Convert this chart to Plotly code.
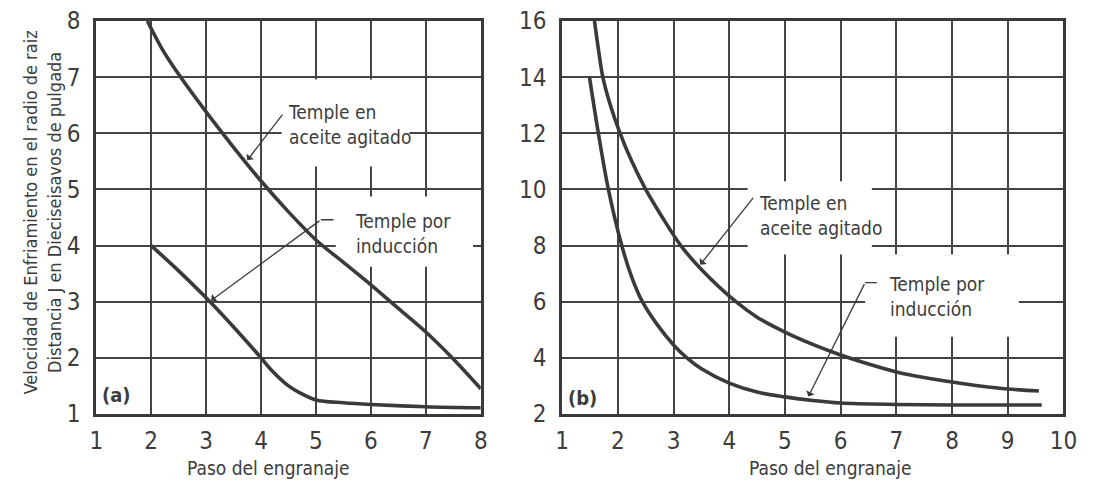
import plotly.graph_objects as go

# ---------------- data ----------------
# Panel (a)
a_aceite_x = [1.93, 2.2, 2.5, 3.0, 3.5, 4.0, 4.5, 5.0, 5.5, 6.0, 6.5, 7.0, 7.5, 8.0]
a_aceite_y = [8.0, 7.5, 7.05, 6.38, 5.75, 5.15, 4.6, 4.1, 3.7, 3.3, 2.88, 2.46, 1.98, 1.45]
a_induc_x = [2.0, 2.5, 3.0, 3.5, 4.0, 4.2, 4.5, 4.7, 5.0, 5.5, 6.0, 7.0, 8.0]
a_induc_y = [4.0, 3.55, 3.07, 2.55, 2.0, 1.77, 1.5, 1.38, 1.25, 1.2, 1.17, 1.13, 1.11]
# Panel (b)
b_aceite_x = [1.58, 1.65, 1.73, 1.85, 2.04, 2.25, 2.5, 2.8, 3.13, 3.5, 4.12, 4.5, 5.0, 5.5,
              6.0, 6.5, 7.0, 7.5, 8.0, 8.5, 9.0, 9.56]
b_aceite_y = [16.0, 15.0, 14.0, 13.1, 12.0, 11.0, 10.0, 9.0, 8.0, 7.15, 6.0, 5.45, 4.92, 4.48,
              4.1, 3.78, 3.5, 3.3, 3.14, 3.0, 2.89, 2.82]
b_induc_x = [1.49, 1.65, 1.83, 2.07, 2.25, 2.44, 2.7, 3.0, 3.25, 3.5, 4.0, 4.5, 5.0,
             5.5, 6.0, 7.0, 8.0, 9.0, 9.61]
b_induc_y = [14.0, 12.0, 10.0, 8.0, 6.87, 6.0, 5.2, 4.46, 3.98, 3.61, 3.1, 2.78, 2.61,
             2.48, 2.39, 2.34, 2.32, 2.32, 2.32]

a_xticks = [1, 2, 3, 4, 5, 6, 7, 8]
a_yticks = [1, 2, 3, 4, 5, 6, 7, 8]
b_xticks = [1, 2, 3, 4, 5, 6, 7, 8, 9, 10]
b_yticks = [2, 4, 6, 8, 10, 12, 14, 16]

label_aceite = "Temple en<br>aceite agitado"
label_induc = "Temple por<br>inducción"
x_title = "Paso del engranaje"
y_title = "Velocidad de Enfriamiento en el radio de raiz<br>Distancia J en Dieciseisavos de pulgada"

# ---------------- style ----------------
INK = "#3a3a3a"
TXT = "#3c3c3c"
FONT = "Liberation Sans Narrow, Arial Narrow, DejaVu Sans Condensed, Liberation Sans, sans-serif"
W, H = 1098, 482

fig = go.Figure()
line_style = dict(color=INK, width=3.6, shape="spline", smoothing=0.9)
fig.add_trace(go.Scatter(x=a_aceite_x, y=a_aceite_y, mode="lines", line=line_style, xaxis="x", yaxis="y"))
fig.add_trace(go.Scatter(x=a_induc_x, y=a_induc_y, mode="lines", line=line_style, xaxis="x", yaxis="y"))
fig.add_trace(go.Scatter(x=b_aceite_x, y=b_aceite_y, mode="lines", line=line_style, xaxis="x2", yaxis="y2"))
fig.add_trace(go.Scatter(x=b_induc_x, y=b_induc_y, mode="lines", line=line_style, xaxis="x2", yaxis="y2"))

axis_common = dict(
    showgrid=True, gridcolor="#444444", gridwidth=1.7,
    showline=True, mirror=True, linecolor=INK, linewidth=3,
    zeroline=False, ticks="", tickfont=dict(family=FONT, size=24, color=TXT),
    fixedrange=True,
)

fig.update_layout(
    width=W, height=H,
    margin=dict(l=0, r=0, t=21, b=68),
    paper_bgcolor="white", plot_bgcolor="white",
    showlegend=False,
    xaxis=dict(axis_common, domain=[91 / W, 483 / W], range=[1, 8], tickvals=a_xticks,
               ticklabelstandoff=3, anchor="y"),
    yaxis=dict(axis_common, domain=[0, 1], range=[1, 8], tickvals=a_yticks,
               ticklabelstandoff=8, anchor="x"),
    xaxis2=dict(axis_common, domain=[566 / W, 1077 / W], range=[1, 10], tickvals=b_xticks,
                ticklabelstandoff=3, anchor="y2"),
    yaxis2=dict(axis_common, domain=[0, 1], range=[2, 16], tickvals=b_yticks,
                ticklabelstandoff=8, anchor="x2"),
)

# white masks that interrupt the grid behind the labels
masks = [
    ("x", "y", 4.375, 6.70, 5.41, 6.96),
    ("x", "y", 5.36, 7.86, 3.625, 4.875),
    ("x2", "y2", 4.33, 6.56, 7.68, 10.29),
    ("x2", "y2", 6.44, 9.20, 4.75, 7.68),
]
for xr, yr, x0, x1, y0, y1 in masks:
    fig.add_shape(type="rect", xref=xr, yref=yr, x0=x0, x1=x1, y0=y0, y1=y1,
                  fillcolor="white", line=dict(width=0), layer="between")

lab_font = dict(family=FONT, size=19, color=TXT)
texts = [
    ("x", "y", 4.46, 6.16, label_aceite),
    ("x", "y", 5.68, 4.21, label_induc),
    ("x2", "y2", 4.49, 9.07, label_aceite),
    ("x2", "y2", 6.83, 6.18, label_induc),
]
for xr, yr, x, y, t in texts:
    fig.add_annotation(xref=xr, yref=yr, x=x, y=y, text=t, showarrow=False,
                       xanchor="left", yanchor="middle", align="left", font=lab_font)

# leader arrows: (xref, yref, tip_x, tip_y, tail_x, tail_y)
arrows = [
    ("x", "y", 3.75, 5.52, 4.41, 6.36),
    ("x", "y", 3.09, 3.02, 5.09, 4.46),
    ("x2", "y2", 3.48, 7.32, 4.45, 9.75),
    ("x2", "y2", 5.42, 2.62, 6.44, 6.68),
]
for xr, yr, x, y, ax, ay in arrows:
    fig.add_annotation(xref=xr, yref=yr, x=x, y=y, ax=ax, ay=ay, axref=xr, ayref=yr,
                       text="", showarrow=True, arrowhead=1, arrowsize=1.2,
                       arrowwidth=1.3, arrowcolor=INK)

# short horizontal starts of leaders
ticks_h = [
    ("x", "y", 5.09, 5.32, 4.46),
    ("x2", "y2", 6.44, 6.65, 6.68),
]
for xr, yr, x0, x1, y in ticks_h:
    fig.add_shape(type="line", xref=xr, yref=yr, x0=x0, x1=x1, y0=y, y1=y,
                  line=dict(color=INK, width=1.3), layer="above")

# panel labels
fig.add_annotation(xref="x", yref="y", x=1.36, y=1.34, text="<b>(a)</b>", showarrow=False,
                   font=dict(family=FONT, size=20, color=TXT))
fig.add_annotation(xref="x2", yref="y2", x=1.37, y=2.57, text="<b>(b)</b>", showarrow=False,
                   font=dict(family=FONT, size=20, color=TXT))

# axis titles
title_font = dict(family=FONT, size=19, color=TXT)
fig.add_annotation(xref="paper", yref="paper", x=267 / W, y=(482 - 468 - 68) / 393,
                   text=x_title, showarrow=False, font=title_font,
                   xanchor="center", yanchor="middle")
fig.add_annotation(xref="paper", yref="paper", x=840 / W, y=(482 - 468 - 68) / 393,
                   text=x_title, showarrow=False, font=title_font,
                   xanchor="center", yanchor="middle")
fig.add_annotation(xref="paper", yref="paper", x=36 / W, y=(482 - 212 - 68) / 393,
                   text=y_title, showarrow=False, textangle=-90,
                   font=dict(family=FONT, size=18, color=TXT),
                   xanchor="center", yanchor="middle")

fig.write_html("out.html")
